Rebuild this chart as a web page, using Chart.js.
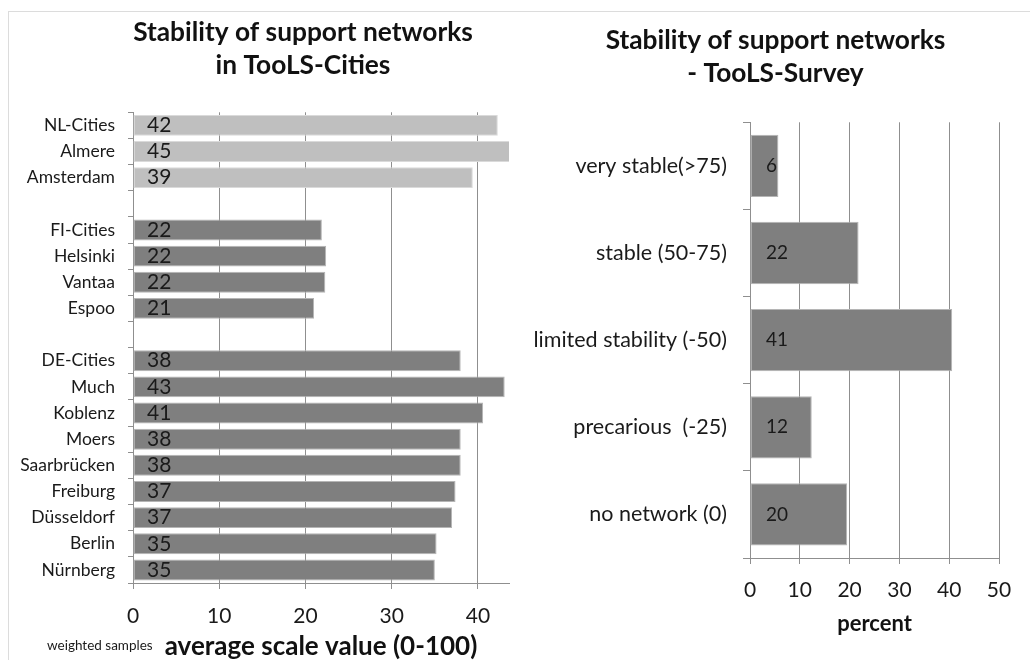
<!DOCTYPE html>
<html>
<head>
<meta charset="utf-8">
<script src="https://cdn.jsdelivr.net/npm/chart.js@4.4.1/dist/chart.umd.min.js"></script>
<style>
body { margin: 0; background: #fff; width: 1030px; height: 660px; overflow: hidden; position: relative; }
#frame { position: absolute; left: 8px; top: 11px; width: 1100px; height: 700px; border: 1px solid #dcdcdc; }
#wrapL { position: absolute; left: 0; top: 0; width: 515px; height: 660px; }
#wrapR { position: absolute; left: 515px; top: 0; width: 515px; height: 660px; }
</style>
</head>
<body>
<div id="frame"></div>
<div id="wrapL"><canvas id="leftChart"></canvas></div>
<div id="wrapR"><canvas id="rightChart"></canvas></div>
<script>

/* =====================
  data
===================== */

var cityLabels = ['NL-Cities', 'Almere', 'Amsterdam', '', 'FI-Cities', 'Helsinki', 'Vantaa', 'Espoo', '',
                  'DE-Cities', 'Much', 'Koblenz', 'Moers', 'Saarbrücken', 'Freiburg', 'Düsseldorf', 'Berlin', 'Nürnberg'];
var cityValues = [42.3, 45, 39.4, null, 21.9, 22.4, 22.3, 21.0, null,
                  38.0, 43.1, 40.6, 38.0, 38.0, 37.4, 37.0, 35.2, 35.0];
var cityGroups = ['NL', 'NL', 'NL', null, 'FI', 'FI', 'FI', 'FI', null,
                  'DE', 'DE', 'DE', 'DE', 'DE', 'DE', 'DE', 'DE', 'DE'];
var cityTicks = [0, 10, 20, 30, 40];

var surveyLabels = ['very stable(>75)', 'stable (50-75)', 'limited stability (-50)', 'precarious  (-25)', 'no network (0)'];
var surveyValues = [5.7, 21.8, 40.6, 12.4, 19.5];
var surveyTicks = [0, 10, 20, 30, 40, 50];

/* =====================
  helpers
===================== */

var FONT = 'Lato';
var TXT = '#1a1a1a';
var GRID = '#8f8f8f';

var groupFill = { NL: '#bfbfbf', FI: '#7f7f7f', DE: '#7f7f7f' };
var groupEdge = { NL: '#dadada', FI: '#b5b5b5', DE: '#b5b5b5' };

// category labels may run into the layout padding (title is centred with it)
function noLabelClip(scale) {
	scale._computeLabelArea = function() {};
}

// value written inside the bar, near its base
function valueLabels(size, offset) {
	return {
		id: 'valueLabels',
		afterDatasetsDraw: function(chart) {
			var ctx = chart.ctx;
			var meta = chart.getDatasetMeta(0);
			var x0 = chart.scales.x.getPixelForValue(0);
			var data = chart.data.datasets[0].data;
			ctx.save();
			ctx.font = size + 'px ' + FONT;
			ctx.fillStyle = TXT;
			ctx.textAlign = 'left';
			ctx.textBaseline = 'middle';
			meta.data.forEach(function(bar, i) {
				if (data[i] == null) return;
				ctx.fillText(Math.round(data[i]), x0 + offset, bar.y);
			});
			ctx.restore();
		}
	};
}

var sampleNote = {
	id: 'sampleNote',
	afterDraw: function(chart) {
		var ctx = chart.ctx;
		ctx.save();
		ctx.font = '13.5px ' + FONT;
		ctx.fillStyle = TXT;
		ctx.textAlign = 'left';
		ctx.textBaseline = 'middle';
		ctx.fillText('weighted samples', 47, 646);
		ctx.restore();
	}
};

/* =====================
  left chart
===================== */

var leftConfig = {
	type: 'bar',
	data: {
		labels: cityLabels,
		datasets: [{
			data: cityValues,
			backgroundColor: cityGroups.map(function(g) { return g ? groupFill[g] : 'transparent'; }),
			borderColor: cityGroups.map(function(g) { return g ? groupEdge[g] : 'transparent'; }),
			borderWidth: 1,
			borderSkipped: false,
			barPercentage: 0.8,
			categoryPercentage: 1
		}]
	},
	options: {
		indexAxis: 'y',
		responsive: true,
		maintainAspectRatio: false,
		animation: false,
		layout: { padding: { left: 97, right: 6, top: 0, bottom: 0 } },
		plugins: {
			legend: { display: false },
			tooltip: { enabled: false },
			title: {
				display: true,
				text: ['Stability of support networks', 'in TooLS-Cities'],
				color: '#111',
				font: { family: FONT, size: 26.3, weight: 'bold', lineHeight: 1.26 },
				padding: { top: 15.5, bottom: 30.5 }
			}
		},
		scales: {
			x: {
				min: 0,
				max: 43.6,
				afterBuildTicks: function(scale) {
					scale.ticks = cityTicks.map(function(v) { return { value: v }; });
				},
				afterFit: function(scale) { scale.height = 77; },
				grid: { color: GRID, tickLength: 6 },
				border: { color: GRID },
				ticks: { color: TXT, font: { family: FONT, size: 21 }, padding: 15, maxRotation: 0 },
				title: {
					display: true,
					text: 'average scale value (0-100)',
					color: '#111',
					font: { family: FONT, size: 26, weight: 'bold' },
					padding: { top: 0, bottom: -2 }
				}
			},
			y: {
				afterFit: function(scale) { scale.width = 36; },
				afterUpdate: noLabelClip,
				grid: { drawOnChartArea: false, offset: true, tickLength: 5, color: GRID },
				border: { color: GRID },
				ticks: { color: TXT, font: { family: FONT, size: 17.5 }, padding: 13, autoSkip: false }
			}
		}
	},
	plugins: [valueLabels(21, 14), sampleNote]
};

/* =====================
  right chart
===================== */

var rightConfig = {
	type: 'bar',
	data: {
		labels: surveyLabels,
		datasets: [{
			data: surveyValues,
			backgroundColor: '#7f7f7f',
			borderColor: '#b5b5b5',
			borderWidth: 1,
			borderSkipped: false,
			barPercentage: 0.715,
			categoryPercentage: 1
		}]
	},
	options: {
		indexAxis: 'y',
		responsive: true,
		maintainAspectRatio: false,
		animation: false,
		layout: { padding: { left: 37, right: 31, top: 0, bottom: 0 } },
		plugins: {
			legend: { display: false },
			tooltip: { enabled: false },
			title: {
				display: true,
				text: ['Stability of support networks', '- TooLS-Survey'],
				color: '#111',
				font: { family: FONT, size: 26.3, weight: 'bold', lineHeight: 1.26 },
				padding: { top: 23.5, bottom: 32.5 }
			}
		},
		scales: {
			x: {
				min: 0,
				max: 50,
				afterBuildTicks: function(scale) {
					scale.ticks = surveyTicks.map(function(v) { return { value: v }; });
				},
				afterFit: function(scale) { scale.height = 102; },
				grid: { color: GRID, tickLength: 6 },
				border: { color: GRID },
				ticks: { color: TXT, font: { family: FONT, size: 21 }, padding: 14, maxRotation: 0 },
				title: {
					display: true,
					text: 'percent',
					color: '#111',
					font: { family: FONT, size: 22, weight: 'bold' },
					padding: { top: 0, bottom: 23 }
				}
			},
			y: {
				afterFit: function(scale) { scale.width = 198; },
				afterUpdate: noLabelClip,
				grid: { drawOnChartArea: false, offset: true, tickLength: 7, color: GRID },
				border: { color: GRID },
				ticks: { color: TXT, font: { family: FONT, size: 21.5 }, padding: 16, autoSkip: false }
			}
		}
	},
	plugins: [valueLabels(19, 16)]
};

var leftChart = new Chart(document.getElementById('leftChart').getContext('2d'), leftConfig);
var rightChart = new Chart(document.getElementById('rightChart').getContext('2d'), rightConfig);

</script>
</body>
</html>
